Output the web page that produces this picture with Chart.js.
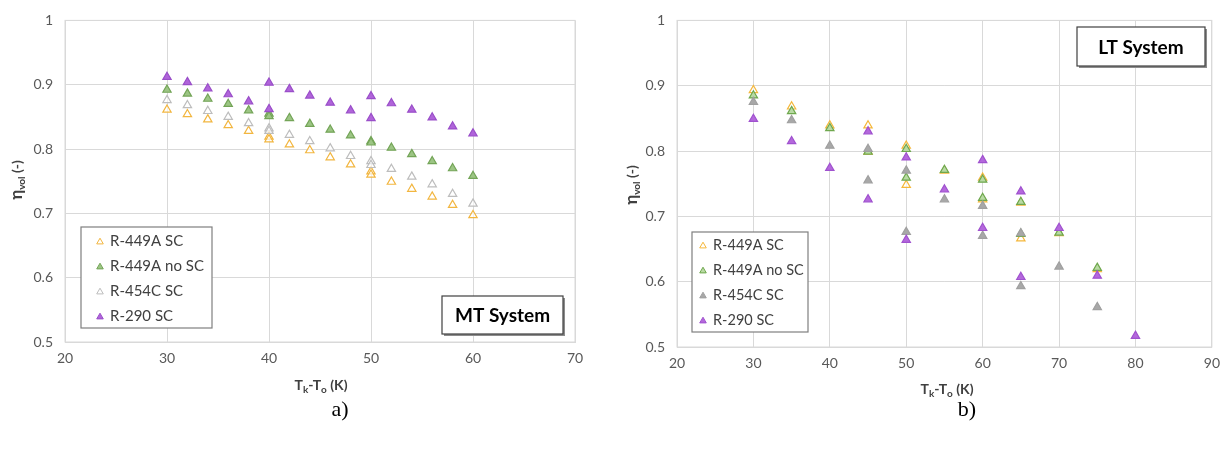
<!DOCTYPE html>
<html>
<head>
<meta charset="utf-8">
<script src="https://cdn.jsdelivr.net/npm/chart.js@4.4.1/dist/chart.umd.min.js"></script>
<style>
  body { margin: 0; background: #fff; width: 1228px; height: 456px; overflow: hidden; position: relative; }
  canvas { position: absolute; top: 0; }
  #mtChart { left: 0; }
  #ltChart { left: 615px; }
  .cap { position: absolute; top: 396px; width: 40px; text-align: center; font: 22px 'Liberation Serif', serif; color: #000; }
</style>
</head>
<body>
<canvas id="mtChart" width="600" height="400"></canvas>
<canvas id="ltChart" width="613" height="400"></canvas>
<div class="cap" style="left:320px">a)</div>
<div class="cap" style="left:947px">b)</div>
<script>
// MT system (a): same x for all four series, two runs at 40 and 50 K
const mtX        = [30, 32, 34, 36, 38, 40, 40, 42, 44, 46, 48, 50, 50, 52, 54, 56, 58, 60];
const mtR449ASC  = [0.861, 0.854, 0.846, 0.837, 0.828, 0.819, 0.815, 0.807, 0.798, 0.787, 0.776, 0.765, 0.760, 0.749, 0.738, 0.726, 0.713, 0.697];
const mtR449ANo  = [0.892, 0.886, 0.878, 0.870, 0.860, 0.855, 0.851, 0.848, 0.839, 0.830, 0.821, 0.812, 0.810, 0.802, 0.792, 0.781, 0.770, 0.758];
const mtR454CSC  = [0.876, 0.868, 0.859, 0.850, 0.840, 0.832, 0.828, 0.822, 0.812, 0.801, 0.789, 0.781, 0.775, 0.769, 0.757, 0.745, 0.730, 0.715];
const mtR290SC   = [0.912, 0.904, 0.894, 0.885, 0.874, 0.903, 0.862, 0.893, 0.883, 0.872, 0.860, 0.882, 0.848, 0.871, 0.861, 0.849, 0.835, 0.824];

// LT system (b)
const ltX449ASC = [30, 35, 40, 45, 45, 50, 50, 55, 60, 60, 65, 65, 70, 75];
const ltY449ASC = [0.893, 0.868, 0.839, 0.839, 0.799, 0.808, 0.748, 0.770, 0.759, 0.726, 0.721, 0.666, 0.674, 0.619];
const ltX449ANo = [30, 35, 40, 45, 50, 50, 55, 60, 60, 65, 65, 70, 75];
const ltY449ANo = [0.885, 0.861, 0.835, 0.799, 0.803, 0.759, 0.771, 0.756, 0.728, 0.722, 0.673, 0.675, 0.621];
const ltX454CSC = [30, 35, 40, 45, 45, 50, 50, 55, 60, 60, 65, 65, 70, 75];
const ltY454CSC = [0.875, 0.847, 0.808, 0.803, 0.755, 0.770, 0.676, 0.726, 0.716, 0.670, 0.674, 0.593, 0.623, 0.561];
const ltX290SC  = [30, 35, 40, 45, 45, 50, 50, 55, 60, 60, 65, 65, 70, 75, 80];
const ltY290SC  = [0.849, 0.815, 0.774, 0.830, 0.726, 0.790, 0.664, 0.741, 0.786, 0.682, 0.738, 0.607, 0.682, 0.609, 0.517];

const seriesNames = ['R-449A SC', 'R-449A no SC', 'R-454C SC', 'R-290 SC'];

const toPoints = (xs, ys) => xs.map((x, i) => ({ x: x, y: ys[i] }));

function triangleSet(label, data, fill, border, order) {
  return {
    label: label,
    data: data,
    pointStyle: 'triangle',
    pointRadius: 4.8,
    pointBackgroundColor: fill,
    pointBorderColor: border,
    pointBorderWidth: 1.2,
    backgroundColor: fill,
    borderColor: border,
    showLine: false,
    order: order
  };
}

// text with subscripts, parts = [[text, size, dy], ...]
function drawRichText(ctx, parts, cx, cy, rotate) {
  ctx.save();
  ctx.translate(cx, cy);
  if (rotate) ctx.rotate(-Math.PI / 2);
  const fontOf = size => 'bold ' + size + "px Lato, 'Open Sans', sans-serif";
  let total = 0;
  parts.forEach(p => { ctx.font = fontOf(p[1]); total += ctx.measureText(p[0]).width; });
  let x = -total / 2;
  ctx.fillStyle = '#404040';
  ctx.textBaseline = 'alphabetic';
  ctx.textAlign = 'left';
  parts.forEach(p => {
    ctx.font = fontOf(p[1]);
    ctx.fillText(p[0], x, p[2]);
    x += ctx.measureText(p[0]).width;
  });
  ctx.restore();
}

const decorPlugin = {
  id: 'decor',
  afterDraw(chart, args, opts) {
    const ctx = chart.ctx;
    const area = chart.chartArea;

    // plot border
    ctx.save();
    ctx.strokeStyle = '#d9d9d9';
    ctx.lineWidth = 1;
    ctx.strokeRect(area.left, area.top, area.right - area.left, area.bottom - area.top);
    ctx.restore();

    // axis titles
    drawRichText(ctx, [['η', 17, 5], ['vol', 10, 8], [' (-)', 14, 5]], opts.yTitle[0], opts.yTitle[1], true);
    drawRichText(ctx, [['T', 14, 5], ['k', 10, 8], ['-T', 14, 5], ['o', 10, 8], [' (K)', 14, 5]], opts.xTitle[0], opts.xTitle[1], false);

    // legend box
    const lg = opts.legend;
    ctx.save();
    ctx.fillStyle = '#fff';
    ctx.fillRect(lg.x, lg.y, lg.w, lg.h);
    ctx.strokeStyle = '#7f7f7f';
    ctx.lineWidth = 1.2;
    ctx.strokeRect(lg.x, lg.y, lg.w, lg.h);
    chart.data.datasets.forEach((ds, i) => {
      const y = lg.rows[i];
      ctx.fillStyle = ds.pointBackgroundColor;
      ctx.strokeStyle = ds.pointBorderColor;
      ctx.lineWidth = 1;
      Chart.helpers.drawPoint(ctx, { pointStyle: 'triangle', radius: 3.8, rotation: 0, borderWidth: 1 }, lg.markX, y + 1);
      ctx.fillStyle = '#404040';
      ctx.font = lg.fontSize + "px Lato, 'Open Sans', sans-serif";
      ctx.textAlign = 'left';
      ctx.textBaseline = 'middle';
      ctx.fillText(ds.label, lg.textX, y);
    });
    ctx.restore();

    // system text box with shadow
    const tb = opts.textBox;
    ctx.save();
    ctx.fillStyle = '#8c8c8c';
    ctx.fillRect(tb.x + 2, tb.y + 2, tb.w, tb.h);
    ctx.fillStyle = '#fff';
    ctx.fillRect(tb.x, tb.y, tb.w, tb.h);
    ctx.strokeStyle = '#404040';
    ctx.lineWidth = 1.2;
    ctx.strokeRect(tb.x, tb.y, tb.w, tb.h);
    ctx.fillStyle = '#000';
    ctx.font = "bold 19px Lato, 'Open Sans', sans-serif";
    ctx.textAlign = 'center';
    ctx.textBaseline = 'middle';
    ctx.fillText(tb.text, tb.x + tb.w / 2, tb.y + tb.h / 2 + 1);
    ctx.restore();
  }
};

function axisOptions(xMax, yWidth, xHeight) {
  const tickFont = { family: "Lato, 'Open Sans', sans-serif", size: 14 };
  return {
    x: {
      type: 'linear', min: 20, max: xMax,
      afterFit: s => { s.height = xHeight; },
      ticks: { stepSize: 10, color: '#595959', font: tickFont, padding: 8 },
      grid: { color: '#d9d9d9', drawTicks: false },
      border: { color: '#d9d9d9' }
    },
    y: {
      type: 'linear', min: 0.5, max: 1,
      afterFit: s => { s.width = yWidth; },
      ticks: { stepSize: 0.1, color: '#595959', font: tickFont, padding: 12,
               callback: v => String(+v.toFixed(1)) },
      grid: { color: '#d9d9d9', drawTicks: false },
      border: { color: '#d9d9d9' }
    }
  };
}

new Chart(document.getElementById('mtChart'), {
  type: 'scatter',
  data: {
    datasets: [
      triangleSet(seriesNames[0], toPoints(mtX, mtR449ASC), 'rgba(255,255,255,0.6)', '#F2B640', 3),
      triangleSet(seriesNames[1], toPoints(mtX, mtR449ANo), '#9CC584', '#74A558', 2),
      triangleSet(seriesNames[2], toPoints(mtX, mtR454CSC), 'rgba(255,255,255,0.6)', '#BDBDBD', 1),
      triangleSet(seriesNames[3], toPoints(mtX, mtR290SC), '#B064DA', '#9A4FC9', 0)
    ]
  },
  options: {
    responsive: false,
    animation: false,
    events: [],
    layout: { padding: { top: 17, right: 25, left: 0, bottom: 0 } },
    scales: axisOptions(70, 65, 58),
    plugins: {
      legend: { display: false },
      tooltip: { enabled: false },
      decor: {
        yTitle: [17, 180],
        xTitle: [321, 385],
        legend: { x: 81, y: 227, w: 131, h: 101, rows: [241, 266, 291, 316], markX: 100, textX: 110, fontSize: 15 },
        textBox: { x: 442, y: 296, w: 121, h: 38, text: 'MT System' }
      }
    }
  },
  plugins: [decorPlugin]
});

new Chart(document.getElementById('ltChart'), {
  type: 'scatter',
  data: {
    datasets: [
      triangleSet(seriesNames[0], toPoints(ltX449ASC, ltY449ASC), 'rgba(255,255,255,0.6)', '#F5B73A', 3),
      triangleSet(seriesNames[1], toPoints(ltX449ANo, ltY449ANo), '#B9DAA4', '#6FA84E', 2),
      triangleSet(seriesNames[2], toPoints(ltX454CSC, ltY454CSC), '#A8A8A8', '#A0A0A0', 1),
      triangleSet(seriesNames[3], toPoints(ltX290SC, ltY290SC), '#B468DC', '#A052CF', 0)
    ]
  },
  options: {
    responsive: false,
    animation: false,
    events: [],
    layout: { padding: { top: 17, right: 15, left: 0, bottom: 0 } },
    scales: axisOptions(90, 62, 53),
    plugins: {
      legend: { display: false },
      tooltip: { enabled: false },
      decor: {
        yTitle: [17, 185],
        xTitle: [332, 389],
        legend: { x: 77, y: 232, w: 116, h: 100, rows: [245, 270, 295, 320], markX: 88, textX: 98, fontSize: 14.5 },
        textBox: { x: 462, y: 27, w: 128, h: 39, text: 'LT System' }
      }
    }
  },
  plugins: [decorPlugin]
});
</script>
</body>
</html>
